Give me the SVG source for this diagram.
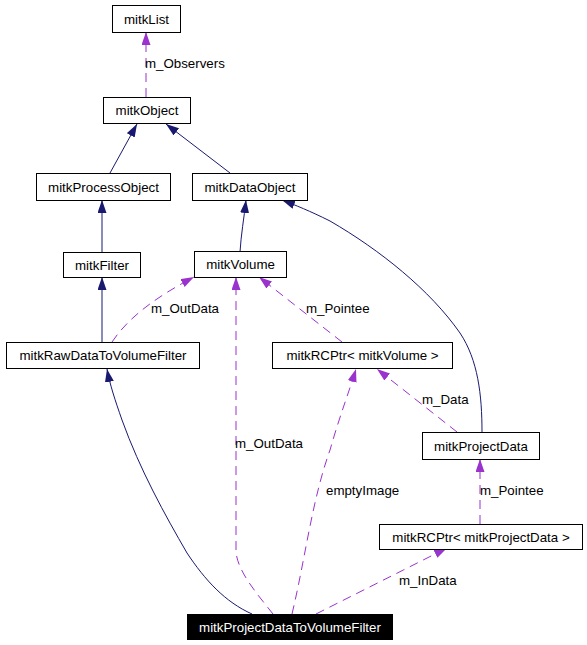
<svg xmlns="http://www.w3.org/2000/svg" width="587" height="645" viewBox="0 0 587 645">
<style>
.n rect{fill:#fff;stroke:#000;stroke-width:1}
.n text{font-family:"Liberation Sans",Arial,sans-serif;font-size:13.3px;text-anchor:middle;fill:#000}
.hl rect{fill:#000}
.hl text{fill:#fff}
.inh{fill:none;stroke:#191970;stroke-width:1;marker-end:url(#ai)}
.use{fill:none;stroke:#9a32cd;stroke-width:1;stroke-dasharray:9,6;marker-end:url(#au)}
.lbl{font-family:"Liberation Sans",Arial,sans-serif;font-size:13.3px;fill:#000}
</style>
<defs>
<marker id="ai" markerUnits="userSpaceOnUse" markerWidth="14" markerHeight="10" refX="13" refY="4.5" orient="auto"><path d="M0,0 L13,4.5 L0,9 z" fill="#191970"/></marker>
<marker id="au" markerUnits="userSpaceOnUse" markerWidth="14" markerHeight="10" refX="13" refY="4.5" orient="auto"><path d="M0,0 L13,4.5 L0,9 z" fill="#9a32cd"/></marker>
</defs>
<g id="edges">
<path class="use" d="M146,97 L146,32"/>
<path class="inh" d="M110,173 L137,124"/>
<path class="inh" d="M230,173 L166,124"/>
<path class="inh" d="M102,252 L102,200"/>
<path class="inh" d="M102,342 L102,277"/>
<path class="inh" d="M240,252 C241,235 244,218 246,200"/>
<path class="use" d="M112,342 C130,315 160,295 194,277"/>
<path class="use" d="M342,342 L259,277"/>
<path class="use" d="M273,614 C258,595 236,570 236,550 L236,277"/>
<path class="use" d="M292,614 C305,560 312,500 330,450 C340,415 348,395 356,369"/>
<path class="use" d="M457,432 L377,369"/>
<path class="inh" d="M482,432 C482,395 478,360 460,333 C430,290 380,250 330,221 C310,211 295,205 282,200"/>
<path class="use" d="M480,524 L480,459"/>
<path class="use" d="M316,614 L447,548"/>
<path class="inh" d="M252,614 C225,602 205,580 187,553 C165,515 140,470 122,420 C115,400 110,385 107,369"/>
</g>
<g class="lbl">
<text x="145" y="68">m_Observers</text>
<text x="151" y="313">m_OutData</text>
<text x="306" y="313">m_Pointee</text>
<text x="422" y="404">m_Data</text>
<text x="235" y="448">m_OutData</text>
<text x="326" y="495">emptyImage</text>
<text x="480" y="495">m_Pointee</text>
<text x="399" y="585">m_InData</text>
</g>
<g id="mitkList" class="n"><rect x="112.5" y="5.5" width="68" height="27"/><text x="146.5" y="23.5">mitkList</text></g>
<g id="mitkObject" class="n"><rect x="103.5" y="97.5" width="87" height="26"/><text x="147" y="115">mitkObject</text></g>
<g id="mitkProcessObject" class="n"><rect x="36.5" y="173.5" width="134" height="27"/><text x="103.5" y="191.5">mitkProcessObject</text></g>
<g id="mitkDataObject" class="n"><rect x="192.5" y="173.5" width="115" height="27"/><text x="250" y="191.5">mitkDataObject</text></g>
<g id="mitkFilter" class="n"><rect x="63.5" y="252.5" width="77" height="25"/><text x="102" y="269.5">mitkFilter</text></g>
<g id="mitkVolume" class="n"><rect x="194.5" y="251.5" width="92" height="26"/><text x="240.5" y="269">mitkVolume</text></g>
<g id="mitkRawDataToVolumeFilter" class="n"><rect x="6.5" y="342.5" width="193" height="26"/><text x="103" y="360">mitkRawDataToVolumeFilter</text></g>
<g id="mitkRCPtrVolume" class="n"><rect x="272.5" y="342.5" width="180" height="26"/><text x="362.5" y="360">mitkRCPtr&lt; mitkVolume &gt;</text></g>
<g id="mitkProjectData" class="n"><rect x="422.5" y="432.5" width="117" height="27"/><text x="481" y="450.5">mitkProjectData</text></g>
<g id="mitkRCPtrProjectData" class="n"><rect x="379.5" y="524.5" width="203" height="25"/><text x="481" y="541.5">mitkRCPtr&lt; mitkProjectData &gt;</text></g>
<g id="mitkProjectDataToVolumeFilter" class="n hl"><rect x="187.5" y="614.5" width="205" height="25"/><text x="290" y="631.5">mitkProjectDataToVolumeFilter</text></g>
</svg>
